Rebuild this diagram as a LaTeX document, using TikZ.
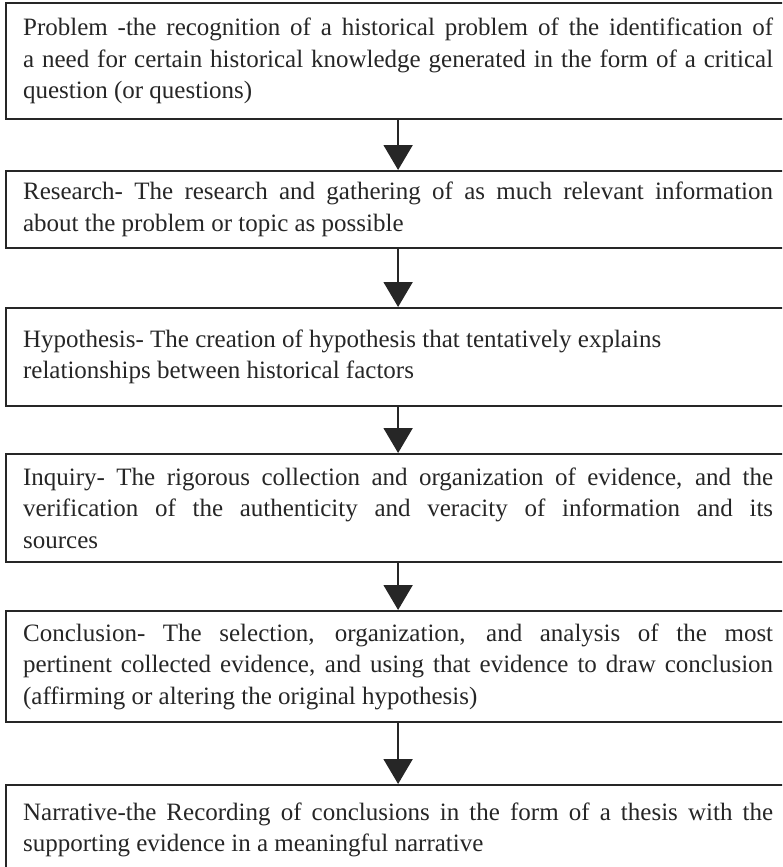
\documentclass[tikz,border=0pt]{standalone}
\usepackage{fontspec}
\setmainfont{Liberation Serif}
\usetikzlibrary{arrows.meta, positioning}
\hyphenpenalty=10000
\exhyphenpenalty=10000
\emergencystretch=20pt

\begin{document}
\begin{tikzpicture}[
	x=1pt, y=-1pt,
	StepBox/.style={
		draw=black!85, line width=2.2pt,
		text width=750pt, inner xsep=17pt, inner ysep=0pt,
		align=justify, anchor=north west, text=black!85,
		font=\fontsize{25}{31.5}\selectfont
	},
	StepArrow/.style={
		draw=black!85, line width=2pt,
		-{Triangle[width=29pt, length=25pt]}
	}
	]
	
	\useasboundingbox (0,0) rectangle (782,867);
	\clip (0,0) rectangle (782,867);
	
	\path
	(5,2) node [StepBox, minimum height=116pt] (problem)
	{Problem -the recognition of a historical problem of the identification of\linebreak
		a need for certain historical knowledge generated in the form of a critical\linebreak
		question (or questions)}
	(5,170) node [StepBox, minimum height=77pt] (research)
	{Research- The research and gathering of as much relevant information\linebreak
		about the problem or topic as possible}
	(5,307) node [StepBox, minimum height=98pt] (hypothesis)
	{Hypothesis- The creation of hypothesis that tentatively explains\newline
		relationships between historical factors}
	(5,453) node [StepBox, minimum height=108pt] (inquiry)
	{Inquiry- The rigorous collection and organization of evidence, and the\linebreak
		verification of the authenticity and veracity of information and its\linebreak
		sources}
	(5,610) node [StepBox, minimum height=111pt] (conclusion)
	{Conclusion- The selection, organization, and analysis of the most\linebreak
		pertinent collected evidence, and using that evidence to draw conclusion\linebreak
		(affirming or altering the original hypothesis)}
	(5,784) node [StepBox, minimum height=90pt] (narrative)
	{Narrative-the Recording of conclusions in the form of a thesis with the\linebreak
		supporting evidence in a meaningful narrative};
	
	% arrows between the steps
	\draw[StepArrow] (problem.south) -- (research.north);
	\draw[StepArrow] (research.south) -- (hypothesis.north);
	\draw[StepArrow] (hypothesis.south) -- (inquiry.north);
	\draw[StepArrow] (inquiry.south) -- (conclusion.north);
	\draw[StepArrow] (conclusion.south) -- (narrative.north);
\end{tikzpicture}
\end{document}
